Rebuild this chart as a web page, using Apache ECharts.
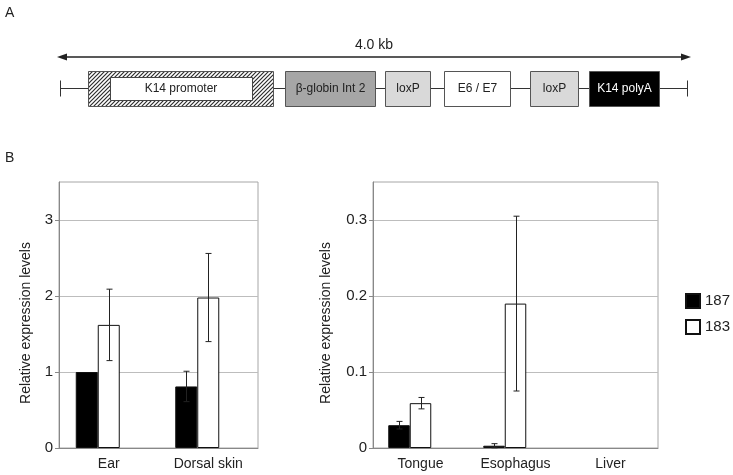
<!DOCTYPE html>
<html>
<head>
<meta charset="utf-8">
<script src="https://cdn.jsdelivr.net/npm/echarts@6/dist/echarts.min.js"></script>
<style>
html,body{margin:0;padding:0;background:#fff;}
#chart{width:733px;height:475px;}
</style>
</head>
<body>
<div id="chart"></div>
<script>
// ---- data ----
const constructParts = ['K14 promoter', 'β-globin Int 2', 'loxP', 'E6 / E7', 'loxP', 'K14 polyA'];
const constructLength = '4.0 kb';
const seriesNames = ['187', '183'];
const leftCategories = ['Ear', 'Dorsal skin'];
const left187 = [1.0, 0.81];
const left187Err = [0, 0.2];
const left183 = [1.62, 1.98];
const left183Err = [0.47, 0.58];
const rightCategories = ['Tongue', 'Esophagus', 'Liver'];
const right187 = [0.030, 0.003, 0];
const right187Err = [0.005, 0.0027, 0];
const right183 = [0.059, 0.19, 0];
const right183Err = [0.0075, 0.115, 0];
const leftTicks = [0, 1, 2, 3];
const rightTicks = [0, 0.1, 0.2, 0.3];
const yTitle = 'Relative expression levels';

// ---- hatch pattern ----
const hc = document.createElement('canvas');
hc.width = 4; hc.height = 4;
const hx = hc.getContext('2d');
hx.fillStyle = '#ffffff'; hx.fillRect(0, 0, 4, 4);
hx.strokeStyle = '#2e2e2e'; hx.lineWidth = 1.2;
hx.beginPath();
hx.moveTo(-1, 5); hx.lineTo(5, -1);
hx.moveTo(-1, 1); hx.lineTo(1, -1);
hx.moveTo(3, 5); hx.lineTo(5, 3);
hx.stroke();

const FONT = '"Liberation Sans", Arial, sans-serif';

// ---- diagram (panel A) ----
const rowY = 71, rowH = 35, midY = rowY + rowH / 2;
const boxes = [
  {x: 285, w: 90, fill: '#a6a6a6', tc: '#222'},
  {x: 385, w: 45, fill: '#d9d9d9', tc: '#222'},
  {x: 444, w: 66, fill: '#ffffff', tc: '#222'},
  {x: 530, w: 48, fill: '#d9d9d9', tc: '#222'},
  {x: 589, w: 70, fill: '#000000', tc: '#fff'}
];
const graphic = [];
graphic.push({type: 'text', left: 5, top: 6, style: {text: 'A', font: '14px ' + FONT, fill: '#222'}});
graphic.push({type: 'text', left: 5, top: 151, style: {text: 'B', font: '14px ' + FONT, fill: '#222'}});
// length arrow
graphic.push({type: 'line', shape: {x1: 64, y1: 57, x2: 684, y2: 57}, style: {stroke: '#222', lineWidth: 1.3}});
graphic.push({type: 'polygon', shape: {points: [[57, 57], [67, 53.5], [67, 60.5]]}, style: {fill: '#222'}});
graphic.push({type: 'polygon', shape: {points: [[691, 57], [681, 53.5], [681, 60.5]]}, style: {fill: '#222'}});
graphic.push({type: 'text', style: {text: constructLength, x: 374, y: 45, font: '14px ' + FONT, fill: '#222', align: 'center', verticalAlign: 'middle'}});
// baseline + end ticks
graphic.push({type: 'line', shape: {x1: 60, y1: midY, x2: 688, y2: midY}, style: {stroke: '#333', lineWidth: 1}});
graphic.push({type: 'line', shape: {x1: 60.5, y1: midY - 8, x2: 60.5, y2: midY + 8}, style: {stroke: '#333', lineWidth: 1}});
graphic.push({type: 'line', shape: {x1: 687.5, y1: midY - 8, x2: 687.5, y2: midY + 8}, style: {stroke: '#333', lineWidth: 1}});
// promoter hatched box
graphic.push({type: 'rect', shape: {x: 88.5, y: rowY + 0.5, width: 185, height: rowH}, style: {fill: {image: hc, repeat: 'repeat'}, stroke: '#555', lineWidth: 1}});
graphic.push({type: 'rect', shape: {x: 110.5, y: rowY + 6.5, width: 142, height: rowH - 12}, style: {fill: '#fff', stroke: '#444', lineWidth: 1}});
graphic.push({type: 'text', style: {text: constructParts[0], x: 181, y: midY + 0.5, font: '12px ' + FONT, fill: '#222', align: 'center', verticalAlign: 'middle'}});
boxes.forEach(function (b, i) {
  graphic.push({type: 'rect', shape: {x: b.x + 0.5, y: rowY + 0.5, width: b.w, height: rowH}, style: {fill: b.fill, stroke: '#555', lineWidth: 1}});
  graphic.push({type: 'text', style: {text: constructParts[i + 1], x: b.x + b.w / 2 + 0.5, y: midY + 0.5, font: '12px ' + FONT, fill: b.tc, align: 'center', verticalAlign: 'middle'}});
});

// ---- error bar renderer ----
function errRenderer(offsetFactor, barW) {
  return function (params, api) {
    const i = api.value(0), v = api.value(1), e = api.value(2);
    if (!e) return;
    const hi = api.coord([i, v + e]);
    const lo = api.coord([i, Math.max(0, v - e)]);
    const x = Math.round(hi[0] + offsetFactor * barW) + 0.5;
    const cap = 3;
    const st = {stroke: '#222', lineWidth: 1};
    return {
      type: 'group',
      children: [
        {type: 'line', shape: {x1: x, y1: hi[1], x2: x, y2: lo[1]}, style: st},
        {type: 'line', shape: {x1: x - cap, y1: hi[1], x2: x + cap, y2: hi[1]}, style: st},
        {type: 'line', shape: {x1: x - cap, y1: lo[1], x2: x + cap, y2: lo[1]}, style: st}
      ]
    };
  };
}
function errData(vals, errs) {
  return vals.map(function (v, i) { return [i, v, errs[i]]; });
}
// zero-height bars are not drawn (no outline at the baseline)
function barData(vals) {
  return vals.map(function (v) { return v === 0 ? '-' : v; });
}

const axisLineColor = '#888888';
const gridColor = '#bdbdbd';
const barWL = 22, barWR = 21.5;

function yAxisCfg(gi, max, interval, ticks, gap, fmt) {
  return {
    gridIndex: gi, type: 'value', min: 0, max: max, interval: interval,
    axisLine: {show: true, lineStyle: {color: axisLineColor}},
    axisTick: {show: true, length: 4, customValues: ticks, lineStyle: {color: axisLineColor}},
    axisLabel: {customValues: ticks, color: '#222', fontSize: 15, fontFamily: FONT, margin: 6, formatter: fmt},
    splitLine: {show: true, lineStyle: {color: gridColor, width: 1}},
    name: yTitle, nameLocation: 'middle', nameGap: gap,
    nameTextStyle: {color: '#222', fontSize: 14, fontFamily: FONT, padding: [0, 16, 0, 0]}
  };
}
function xAxisCfg(gi, cats) {
  return {
    gridIndex: gi, type: 'category', data: cats,
    axisLine: {show: true, lineStyle: {color: axisLineColor}},
    axisTick: {show: false},
    axisLabel: {color: '#222', fontSize: 14, fontFamily: FONT, margin: 9},
    splitLine: {show: false}
  };
}
function barSeries(name, gi, data, w, fill) {
  return {
    name: name, type: 'bar', xAxisIndex: gi, yAxisIndex: gi, data: data,
    barWidth: w, barGap: '0%',
    itemStyle: {color: fill, borderColor: '#111', borderWidth: 1},
    emphasis: {disabled: true}, animation: false
  };
}

const option = {
  animation: false,
  backgroundColor: '#fff',
  textStyle: {fontFamily: FONT},
  graphic: graphic,
  legend: {
    data: seriesNames, orient: 'vertical', left: 685, top: 293, padding: 0,
    itemWidth: 14, itemHeight: 14, itemGap: 10, icon: 'rect',
    textStyle: {color: '#222', fontSize: 15, fontFamily: FONT},
    selectedMode: false
  },
  grid: [
    {left: 59, top: 182, width: 199, height: 266, show: true, borderColor: '#a6a6a6', borderWidth: 1, containLabel: false},
    {left: 373, top: 182, width: 285, height: 266, show: true, borderColor: '#a6a6a6', borderWidth: 1, containLabel: false}
  ],
  xAxis: [xAxisCfg(0, leftCategories), xAxisCfg(1, rightCategories)],
  yAxis: [
    yAxisCfg(0, 3.5, 0.5, leftTicks, 26, function (v) { return String(v); }),
    yAxisCfg(1, 0.35, 0.05, rightTicks, 40, function (v) { return v === 0 ? '0' : v.toFixed(1); })
  ],
  series: [
    barSeries(seriesNames[0], 0, barData(left187), barWL, '#000'),
    barSeries(seriesNames[1], 0, barData(left183), barWL, '#fff'),
    barSeries('pad0', 0, [], barWL, '#fff'),
    barSeries(seriesNames[0], 1, barData(right187), barWR, '#000'),
    barSeries(seriesNames[1], 1, barData(right183), barWR, '#fff'),
    barSeries('pad1', 1, [], barWR, '#fff'),
    {type: 'custom', xAxisIndex: 0, yAxisIndex: 0, renderItem: errRenderer(-1, barWL), data: errData(left187, left187Err), z: 5, silent: true},
    {type: 'custom', xAxisIndex: 0, yAxisIndex: 0, renderItem: errRenderer(0, barWL), data: errData(left183, left183Err), z: 5, silent: true},
    {type: 'custom', xAxisIndex: 1, yAxisIndex: 1, renderItem: errRenderer(-1, barWR), data: errData(right187, right187Err), z: 5, silent: true},
    {type: 'custom', xAxisIndex: 1, yAxisIndex: 1, renderItem: errRenderer(0, barWR), data: errData(right183, right183Err), z: 5, silent: true}
  ]
};

const chart = echarts.init(document.getElementById('chart'), null, {renderer: 'canvas', width: 733, height: 475});
chart.setOption(option);
</script>
</body>
</html>
